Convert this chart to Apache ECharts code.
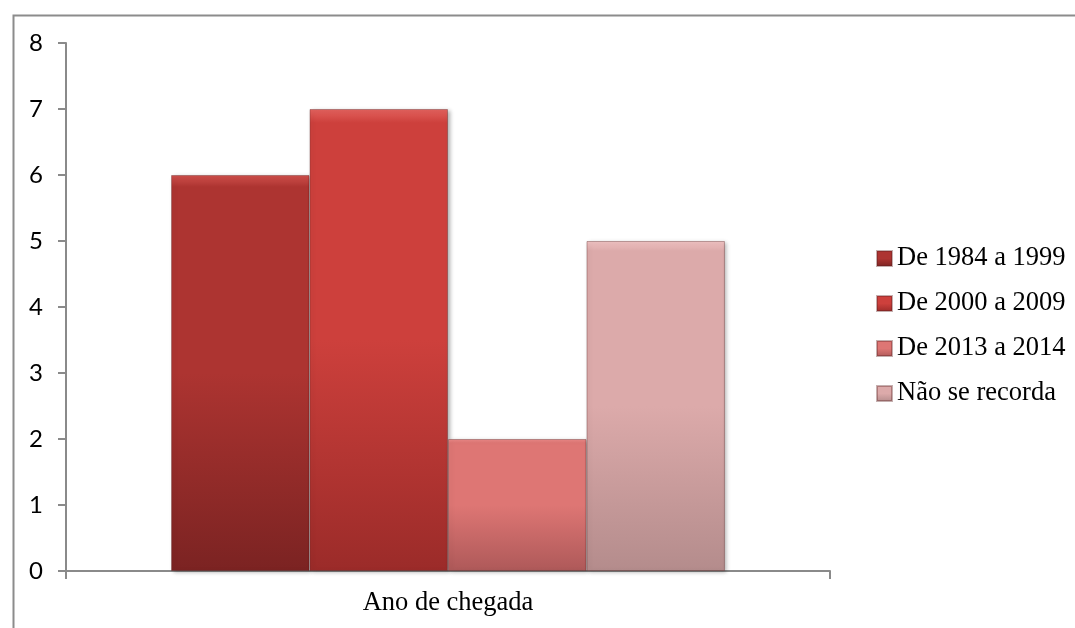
<!DOCTYPE html>
<html>
<head>
<meta charset="utf-8">
<script src="https://cdn.jsdelivr.net/npm/echarts@6/dist/echarts.min.js"></script>
<style>html,body{margin:0;padding:0;background:#fff}#c{width:1075px;height:628px}</style>
</head>
<body>
<div id="c"></div>
<script>
const categories = ['Ano de chegada'];
const seriesNames = ['De 1984 a 1999', 'De 2000 a 2009', 'De 2013 a 2014', 'Não se recorda'];
const seriesValues = [[6], [7], [2], [5]];
const yTicks = [0, 1, 2, 3, 4, 5, 6, 7, 8];

const palette = [
  ['#d0504c', '#ad3431', '#7b2322'],
  ['#e3625e', '#cd403c', '#9b2b29'],
  ['#eb8a88', '#de7674', '#ae5959'],
  ['#f0c2c2', '#dcaaaa', '#b48c8c']
];
function grad(p) {
  return new echarts.graphic.LinearGradient(0, 0, 0, 1, [
    {offset: 0, color: p[0]},
    {offset: 0.03, color: p[1]},
    {offset: 0.5, color: p[1]},
    {offset: 1, color: p[2]}
  ]);
}

const chart = echarts.init(document.getElementById('c'), null, {renderer: 'canvas'});
chart.setOption({
  animation: false,
  backgroundColor: '#fff',
  graphic: [{
    type: 'rect', left: 11, top: 13,
    shape: {width: 1200, height: 800},
    style: {fill: 'none', stroke: '#8c8c8c', lineWidth: 2},
    silent: true, z: -1
  }],
  grid: {left: 66, right: 245, top: 43, bottom: 57},
  legend: {
    orient: 'vertical', left: 871, top: 240,
    itemWidth: 15, itemHeight: 15, itemGap: 18, icon: 'rect',
    textStyle: {fontFamily: 'Liberation Serif', fontSize: 26.5, color: '#000'},
    data: seriesNames
  },
  xAxis: {
    type: 'category', data: categories,
    axisLine: {lineStyle: {color: '#8a8a8a', width: 2}},
    axisTick: {show: true, length: 8, lineStyle: {color: '#8a8a8a', width: 2}},
    axisLabel: {fontFamily: 'Liberation Serif', fontSize: 26.5, color: '#000', margin: 19}
  },
  yAxis: {
    type: 'value', min: 0, max: 8, interval: 1,
    axisLine: {show: true, lineStyle: {color: '#8a8a8a', width: 2}},
    axisTick: {show: true, length: 8, lineStyle: {color: '#8a8a8a', width: 2}},
    splitLine: {show: false},
    axisLabel: {fontFamily: 'Lato', fontSize: 24, color: '#000', margin: 23,
      formatter: v => yTicks.includes(v) ? String(v) : ''}
  },
  series: seriesNames.map((n, i) => ({
    name: n, type: 'bar', data: seriesValues[i],
    barGap: '0%', barCategoryGap: '27.5%',
    itemStyle: {
      color: grad(palette[i]),
      borderColor: 'rgba(90,30,30,0.35)', borderWidth: 1,
      shadowBlur: 4, shadowOffsetX: 2, shadowOffsetY: 1, shadowColor: 'rgba(0,0,0,0.3)'
    }
  }))
});
</script>
</body>
</html>
